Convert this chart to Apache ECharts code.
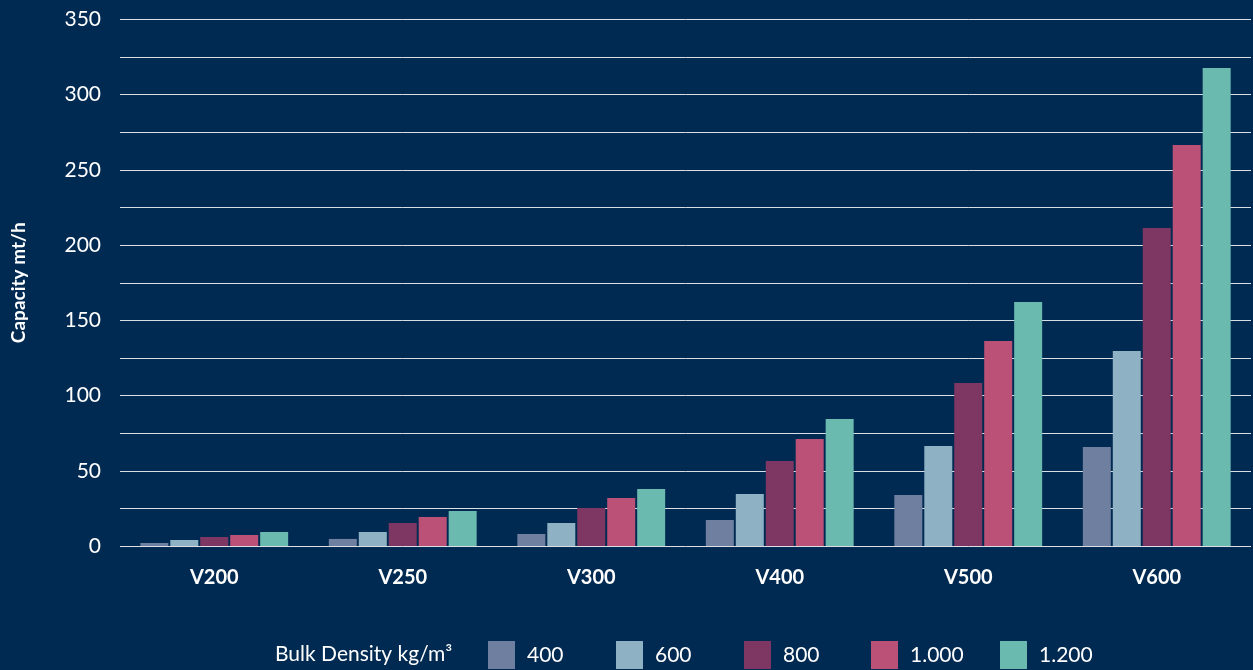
<!DOCTYPE html>
<html>
<head>
<meta charset="utf-8">
<script src="https://cdn.jsdelivr.net/npm/echarts@6/dist/echarts.min.js"></script>
<style>
html,body{margin:0;padding:0;background:#002a52;}
#chart{width:1253px;height:670px;}
</style>
</head>
<body>
<div id="chart"></div>
<script>
var categories = ['V200', 'V250', 'V300', 'V400', 'V500', 'V600'];
var seriesNames = ['400', '600', '800', '1.000', '1.200'];
var d400  = [2, 4.7, 8, 17.3, 33.9, 65.8];
var d600  = [4, 9.3, 15.3, 34.6, 66.5, 129.7];
var d800  = [6, 15.3, 25.3, 56.5, 108.4, 211.4];
var d1000 = [7.3, 19.3, 31.9, 71.1, 136.3, 266.6];
var d1200 = [9.3, 23.3, 37.9, 84.4, 162.2, 317.8];
var yTicks = [0, 50, 100, 150, 200, 250, 300, 350];

var seriesData = [d400, d600, d800, d1000, d1200];
var colors = ['#6f7f9f', '#8eb1c3', '#7e3762', '#bc5177', '#6bbab0'];
var legendLefts = [488, 616, 744, 871, 1000];
var fontFam = 'Lato, "Open Sans", sans-serif';

var chart = echarts.init(document.getElementById('chart'));
chart.setOption({
  backgroundColor: '#002a52',
  animation: false,
  grid: { left: 120, right: 2, top: 19.5, bottom: 124, containLabel: false, outerBoundsMode: 'none' },
  xAxis: {
    type: 'category',
    data: categories,
    axisLine: { show: false },
    axisTick: { show: false },
    axisLabel: { color: '#ffffff', fontSize: 20, fontWeight: 'bold', fontFamily: fontFam, margin: 22 }
  },
  yAxis: {
    type: 'value',
    min: yTicks[0],
    max: yTicks[yTicks.length - 1],
    interval: 25,
    name: 'Capacity mt/h',
    nameLocation: 'middle',
    nameGap: 92,
    nameTextStyle: { color: '#ffffff', fontSize: 19, fontWeight: 'bold', fontFamily: fontFam },
    axisLine: { show: false },
    axisTick: { show: false },
    splitLine: { lineStyle: { color: 'rgba(255,255,255,0.85)', width: 1 } },
    axisLabel: {
      color: '#ffffff', fontSize: 21, fontFamily: fontFam, margin: 19,
      formatter: function (v) { return yTicks.indexOf(v) >= 0 ? String(v) : ''; }
    }
  },
  legend: seriesNames.map(function (n, i) {
    return {
      left: legendLefts[i],
      top: 641,
      padding: 0,
      itemWidth: 27,
      itemHeight: 28,
      icon: 'rect',
      data: [n],
      textStyle: { color: '#ffffff', fontSize: 21, fontFamily: fontFam, padding: [0, 0, 0, 7] }
    };
  }),
  graphic: [{
    type: 'text',
    left: 275,
    top: 644,
    style: { text: 'Bulk Density kg/m³', fill: '#ffffff', fontSize: 21, fontFamily: fontFam }
  }],
  series: seriesNames.map(function (n, i) {
    return {
      name: n,
      type: 'bar',
      data: seriesData[i],
      barWidth: 28,
      barGap: '7%',
      itemStyle: { color: colors[i] }
    };
  })
});
</script>
</body>
</html>
